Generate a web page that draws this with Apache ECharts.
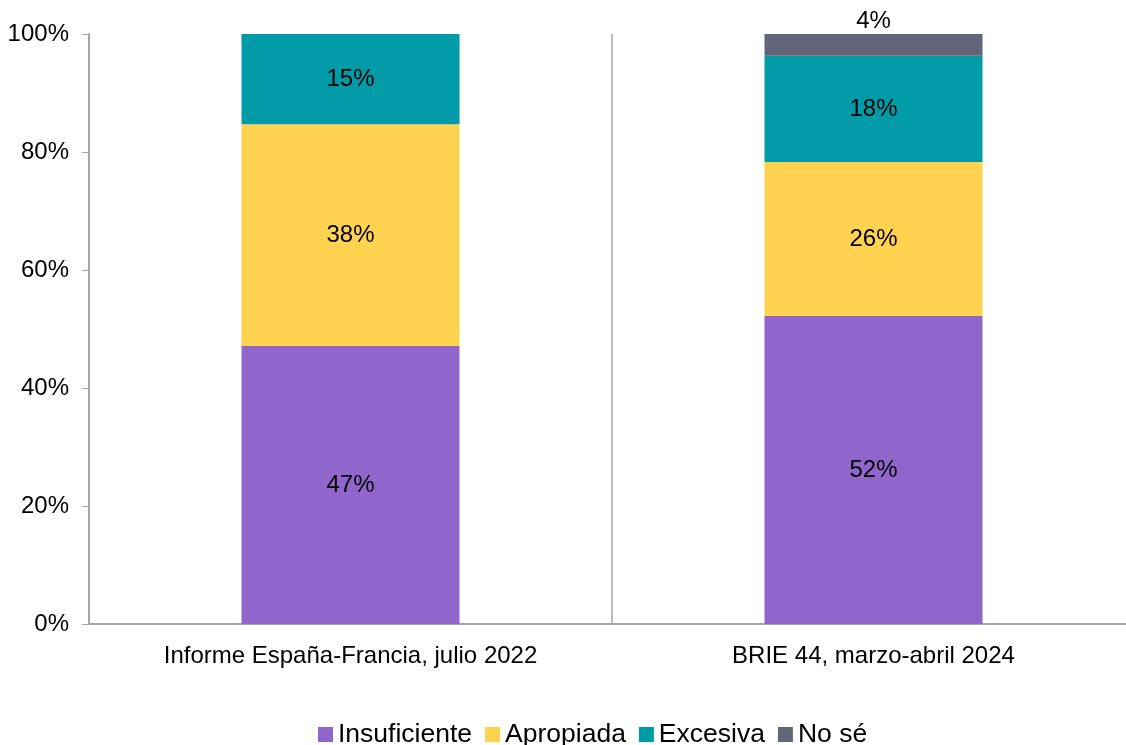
<!DOCTYPE html>
<html>

<head>
  <meta charset="utf-8">
  <script src="https://cdn.jsdelivr.net/npm/echarts@6/dist/echarts.min.js"></script>
  <style>
    body {
      margin: 0;
    }

    #chart {
      width: 1126px;
      height: 745px;
    }
  </style>
</head>

<body>
  <div id="chart"></div>
  <script>
    const categories = ['Informe España-Francia, julio 2022', 'BRIE 44, marzo-abril 2024']
    const insuficiente = [47.1, 52.2]
    const apropiada = [37.6, 26.1]
    const excesiva = [15.3, 18.0]
    const noSe = ['-', 3.7]
    const yTicks = [0, 20, 40, 60, 80, 100]

    const font = 'Liberation Sans, Arial, sans-serif'
    const labelStyle = {
      show: true,
      color: '#000',
      fontFamily: font,
      fontSize: 24,
      formatter: p => Math.round(p.value) + '%'
    }

    function makeSeries(name, data, color, pos) {
      return {
        name: name,
        type: 'bar',
        stack: 'total',
        barWidth: 218,
        data: data,
        itemStyle: { color: color },
        label: Object.assign({}, labelStyle, { position: pos || 'inside', distance: 1 })
      }
    }

    const option = {
      animation: false,
      grid: { left: 89, width: 1046, top: 34, height: 590, outerBoundsMode: 'none' },
      legend: {
        top: 716,
        left: 313,
        icon: 'rect',
        itemWidth: 15,
        itemHeight: 15,
        itemGap: 13,
        textStyle: { fontFamily: font, fontSize: 26.5, color: '#000' },
        data: ['Insuficiente', 'Apropiada', 'Excesiva', 'No sé']
      },
      xAxis: {
        type: 'category',
        data: categories,
        axisLine: { lineStyle: { color: '#A6A6A6', width: 2 } },
        axisTick: { length: 8, lineStyle: { color: '#A6A6A6', width: 1.5 } },
        splitLine: { show: true, lineStyle: { color: '#A6A6A6', width: 1.5 } },
        axisLabel: { fontFamily: font, fontSize: 24, color: '#000', margin: 20 }
      },
      yAxis: {
        type: 'value',
        min: yTicks[0],
        max: yTicks[yTicks.length - 1],
        interval: 20,
        axisLine: { show: true, lineStyle: { color: '#A6A6A6', width: 2 } },
        axisTick: { show: true, length: 7, lineStyle: { color: '#A6A6A6' } },
        splitLine: { show: false },
        axisLabel: { fontFamily: font, fontSize: 24, color: '#000', margin: 20, formatter: '{value}%' }
      },
      series: [
        makeSeries('Insuficiente', insuficiente, '#9066CC'),
        makeSeries('Apropiada', apropiada, '#FFD34F'),
        makeSeries('Excesiva', excesiva, '#009BA6'),
        makeSeries('No sé', noSe, '#636679', 'top')
      ]
    }

    const chart = echarts.init(document.getElementById('chart'))
    chart.setOption(option)
  </script>
</body>

</html>
